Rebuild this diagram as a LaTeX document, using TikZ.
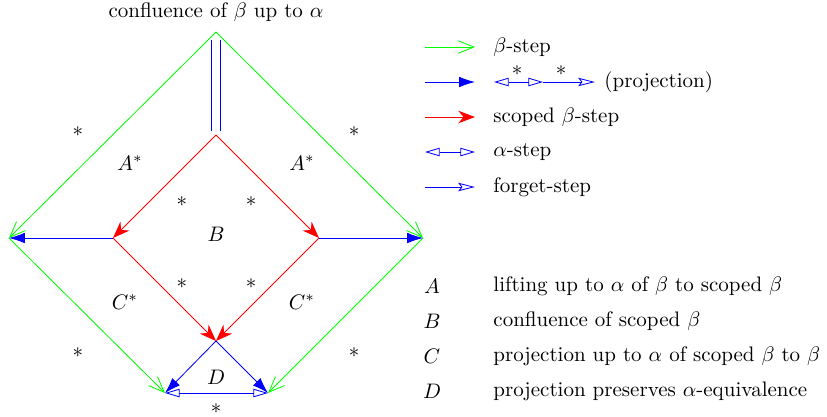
\documentclass[tikz,border=0pt]{standalone}
\usetikzlibrary{arrows.meta}
\begin{document}
\begin{tikzpicture}[
    x=0.476pt, y=-0.476pt,
    bstep/.style={draw=green, -{Straight Barb[length=7.5pt,width=6pt]}},
    sbstep/.style={draw=red, -{Stealth[length=8pt,width=6pt]}},
    proj/.style={draw=blue, -{Latex[length=7.5pt,width=5pt]}},
    astep/.style={draw=blue, {Triangle[open,length=7pt,width=4pt]}-{Triangle[open,length=7pt,width=4pt]}},
    fstep/.style={draw=blue, -{Stealth[open,length=8pt,width=4pt,inset=1.5pt]}},
    lbl/.style={inner sep=1pt},
    legtext/.style={anchor=west, inner sep=0pt},
  ]
  \useasboundingbox (0,0) rectangle (827,416);
  % corners of the diagram
  \coordinate (top) at (216,32);
  \coordinate (oleft) at (9,238);
  \coordinate (oright) at (423,238);
  \coordinate (bleft) at (165,393);
  \coordinate (bright) at (268,393);
  \coordinate (itop) at (216,135);
  \coordinate (ileft) at (113,238);
  \coordinate (iright) at (319,238);
  \coordinate (ibot) at (216,341);

  \node[lbl] (title) at (216,12) {confluence of $\beta$ up to $\alpha$};

  % outer beta steps
  \draw[bstep] (top) -- (oleft);
  \draw[bstep] (top) -- (oright);
  \draw[bstep] (oleft) -- (bleft);
  \draw[bstep] (oright) -- (bright);
  % equality between the tops
  \draw[blue] ([xshift=-2pt,yshift=-3.8pt]top) -- ([xshift=-2pt,yshift=1.9pt]itop);
  \draw[blue] ([xshift=2pt,yshift=-3.8pt]top) -- ([xshift=2pt,yshift=1.9pt]itop);

  % scoped beta steps
  \draw[sbstep] (itop) -- (ileft);
  \draw[sbstep] (itop) -- (iright);
  \draw[sbstep] (ileft) -- (ibot);
  \draw[sbstep] (iright) -- (ibot);

  % projections
  \draw[proj] (ileft) -- (oleft);
  \draw[proj] (iright) -- (oright);
  \draw[proj] (ibot) -- (bleft);
  \draw[proj] (ibot) -- (bright);
  \draw[astep] (bleft) -- (bright);

  % stars and labels
  \node[lbl] (s1) at (78,132) {$*$};
  \node[lbl] (s2) at (354,132) {$*$};
  \node[lbl] (s3) at (78,353) {$*$};
  \node[lbl] (s4) at (354,353) {$*$};
  \node[lbl] (s5) at (182,202) {$*$};
  \node[lbl] (s6) at (251,202) {$*$};
  \node[lbl] (s7) at (182,284) {$*$};
  \node[lbl] (s8) at (251,284) {$*$};
  \node[lbl] (s9) at (216,409) {$*$};
  \node[lbl] (la1) at (130,163) {$A^*$};
  \node[lbl] (la2) at (302,163) {$A^*$};
  \node[lbl] (lb) at (216,234) {$B$};
  \node[lbl] (lc1) at (125,302) {$C^*$};
  \node[lbl] (lc2) at (302,302) {$C^*$};
  \node[lbl] (ld) at (216,377) {$D$};

  % legend
  \coordinate (g1) at (425,47);  \coordinate (g2) at (475,47);
  \coordinate (p1) at (425,82);  \coordinate (p2) at (475,82);
  \coordinate (r1) at (425,117); \coordinate (r2) at (475,117);
  \coordinate (a1) at (425,152); \coordinate (a2) at (475,152);
  \coordinate (f1) at (425,187); \coordinate (f2) at (475,187);
  \draw[bstep] (g1) -- (g2);
  \draw[proj] (p1) -- (p2);
  \draw[sbstep] (r1) -- (r2);
  \draw[astep] (a1) -- (a2);
  \draw[fstep] (f1) -- (f2);
  \node[legtext] (tg) at (493,47) {$\beta$-step};
  \coordinate (q1) at (494,82); \coordinate (q2) at (543,82); \coordinate (q3) at (595,82);
  \draw[astep] (q1) -- (q2);
  \draw[fstep] (q2) -- (q3);
  \node[lbl] (qs1) at (517,71) {$*$};
  \node[lbl] (qs2) at (561,71) {$*$};
  \node[legtext] (tp) at (604,82) {(projection)};
  \node[legtext] (tr) at (493,117) {scoped $\beta$-step};
  \node[legtext] (ta) at (493,152) {$\alpha$-step};
  \node[legtext] (tf) at (493,187) {forget-step};

  \node[lbl] (ka) at (432,286) {$A$};
  \node[lbl] (kb) at (432,321) {$B$};
  \node[lbl] (kc) at (432,356) {$C$};
  \node[lbl] (kd) at (432,391) {$D$};
  \node[legtext] (tla) at (493,286) {lifting up to $\alpha$ of $\beta$ to scoped $\beta$};
  \node[legtext] (tlb) at (493,321) {confluence of scoped $\beta$};
  \node[legtext] (tlc) at (493,356) {projection up to $\alpha$ of scoped $\beta$ to $\beta$};
  \node[legtext] (tld) at (493,391) {projection preserves $\alpha$-equivalence};
\end{tikzpicture}
\end{document}
